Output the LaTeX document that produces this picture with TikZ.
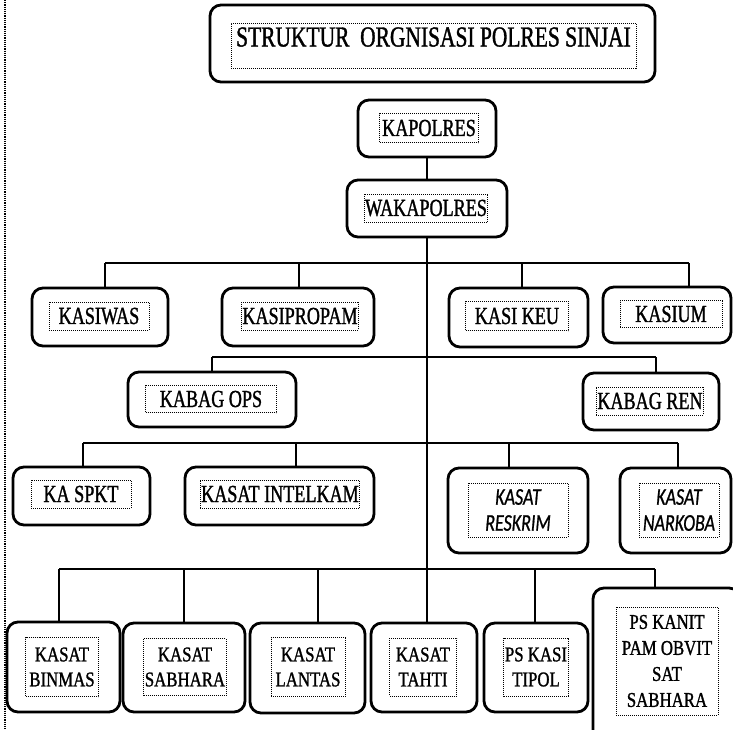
\documentclass[tikz,border=0pt]{standalone}
\usepackage{fontspec}
\newfontfamily\orgserif[FakeStretch=0.74,FakeBold=1.2]{Liberation Serif}
\newfontfamily\orglow[FakeStretch=0.8,FakeBold=1.2]{Liberation Serif}
\newfontfamily\orgsans[FakeStretch=0.75,FakeBold=0.8]{Carlito}
\begin{document}
\begin{tikzpicture}[x=1pt,y=-1pt,conn/.style={line width=1.3pt}]
\tikzstyle{unitbox}=[draw, line width=2.8pt, rounded corners=11pt]
\tikzstyle{txtframe}=[draw, densely dotted, line width=1pt, inner sep=1pt, align=center, font=\orgserif\fontsize{24.5}{28}\selectfont]
\tikzstyle{lowframe}=[txtframe, font=\orglow\fontsize{21}{25}\selectfont]
\tikzstyle{itframe}=[txtframe, font=\orgsans\itshape\fontsize{24}{26}\selectfont]
\useasboundingbox (0,0) rectangle (733,729);
\clip (0,0) rectangle (733,729);
\draw[densely dotted, line width=1.2pt] (5,0) -- (5,729);
% outer boxes
\node[unitbox, minimum width=445pt, minimum height=77pt] (title) at (432.5,43.5) {};
\node[unitbox, minimum width=138pt, minimum height=57pt] (kap) at (427,128.5) {};
\node[unitbox, minimum width=160pt, minimum height=57pt] (wak) at (427,208.5) {};
\node[unitbox, minimum width=136pt, minimum height=58pt] (kasiwas) at (100,317) {};
\node[unitbox, minimum width=152pt, minimum height=58pt] (kasiprop) at (298,317) {};
\node[unitbox, minimum width=139pt, minimum height=59pt] (kasikeu) at (518.5,317.5) {};
\node[unitbox, minimum width=128pt, minimum height=56pt] (kasium) at (667,315) {};
\node[unitbox, minimum width=168pt, minimum height=55pt] (kabops) at (212,399.5) {};
\node[unitbox, minimum width=136pt, minimum height=57pt] (kabren) at (651,401.5) {};
\node[unitbox, minimum width=137pt, minimum height=58pt] (kaspkt) at (81.5,496) {};
\node[unitbox, minimum width=189pt, minimum height=58pt] (intelkam) at (279.5,496) {};
\node[unitbox, minimum width=140pt, minimum height=85pt] (reskrim) at (518,510.5) {};
\node[unitbox, minimum width=111pt, minimum height=85pt] (narkoba) at (675.5,510.5) {};
\node[unitbox, minimum width=113pt, minimum height=90pt] (binmas) at (63.5,667) {};
\node[unitbox, minimum width=122pt, minimum height=89pt] (sabhara) at (184,667.5) {};
\node[unitbox, minimum width=115pt, minimum height=90pt] (lantas) at (307.5,668) {};
\node[unitbox, minimum width=106pt, minimum height=89pt] (tahti) at (424,667.5) {};
\node[unitbox, minimum width=104pt, minimum height=89pt] (tipol) at (536,667.5) {};
\node[unitbox, minimum width=147pt, minimum height=157pt] (pskanit) at (666.5,666.5) {};
% dotted text frames
\node[txtframe, minimum width=405pt, text height=19pt, text depth=17pt, inner ysep=4.5pt, font=\orgserif\fontsize{29}{32}\selectfont] (titleT) at (433.5,45.5) {STRUKTUR\ \ ORGNISASI POLRES SINJAI};
\node[txtframe, minimum width=99pt, minimum height=29pt] (kapT) at (429,128) {KAPOLRES};
\node[txtframe, minimum width=123pt, minimum height=28pt] (wakT) at (426,208) {WAKAPOLRES};
\node[txtframe, minimum width=100pt, minimum height=28pt] (kasiwasT) at (99,316) {KASIWAS};
\node[txtframe, minimum width=115pt, minimum height=28pt] (kasipropT) at (300,316) {KASIPROPAM};
\node[txtframe, minimum width=103pt, minimum height=29pt] (kasikeuT) at (517,316) {KASI KEU};
\node[txtframe, minimum width=102pt, minimum height=27pt] (kasiumT) at (671,314) {KASIUM};
\node[txtframe, minimum width=131pt, minimum height=27pt] (kabopsT) at (211,399) {KABAG OPS};
\node[txtframe, minimum width=101pt, minimum height=28pt] (kabrenT) at (650,401) {KABAG REN};
\node[txtframe, minimum width=100pt, minimum height=28pt] (kaspktT) at (81,494) {KA SPKT};
\node[txtframe, minimum width=155pt, minimum height=28pt] (intelkamT) at (280,494) {KASAT INTELKAM};
\node[itframe, minimum width=100pt, minimum height=54pt] (reskrimT) at (518,510) {KASAT\\RESKRIM};
\node[itframe, minimum width=80pt, minimum height=54pt] (narkobaT) at (679,510) {KASAT\\NARKOBA};
\node[lowframe, minimum width=73pt, minimum height=59pt] (binmasT) at (62,667) {KASAT\\BINMAS};
\node[lowframe, minimum width=82pt, minimum height=57pt] (sabharaT) at (185,667) {KASAT\\SABHARA};
\node[lowframe, minimum width=74pt, minimum height=59pt] (lantasT) at (308,667) {KASAT\\LANTAS};
\node[lowframe, minimum width=67pt, minimum height=58pt] (tahtiT) at (423,667) {KASAT\\TAHTI};
\node[lowframe, minimum width=64pt, minimum height=58pt] (tipolT) at (536,667) {PS KASI\\TIPOL};
\node[lowframe, minimum width=102pt, minimum height=108pt, font=\orglow\fontsize{21}{26}\selectfont] (pskanitT) at (667,661) {PS KANIT\\PAM OBVIT\\SAT\\SABHARA};
% connectors
\coordinate (b1) at (0,263);
\coordinate (b2) at (0,357);
\coordinate (b3) at (0,443);
\coordinate (b4) at (0,569);
\draw[conn] (kap.south) -- (wak.north);
\draw[conn] (wak.south) -- (wak.south |- tahti.north);
\draw[conn] ([xshift=5pt]kasiwas.north |- b1) -- ([xshift=22pt]kasium.north |- b1);
\foreach \n/\s in {kasiwas/5,kasiprop/1,kasikeu/3.5,kasium/22}
  \draw[conn] ([xshift=\s pt]\n.north) -- ([xshift=\s pt]\n.north |- b1);
\draw[conn] (kabops.north |- b2) -- ([xshift=5pt]kabren.north |- b2);
\foreach \n/\s in {kabops/0,kabren/5}
  \draw[conn] ([xshift=\s pt]\n.north) -- ([xshift=\s pt]\n.north |- b2);
\draw[conn] ([xshift=1.5pt]kaspkt.north |- b3) -- ([xshift=2.5pt]narkoba.north |- b3);
\foreach \n/\s in {kaspkt/1.5,intelkam/16.5,reskrim/-9,narkoba/2.5}
  \draw[conn] ([xshift=\s pt]\n.north) -- ([xshift=\s pt]\n.north |- b3);
\draw[conn] ([xshift=-4.5pt]binmas.north |- b4) -- ([xshift=-11.5pt]pskanit.north |- b4);
\foreach \n/\s in {binmas/-4.5,sabhara/0,lantas/10.5,tipol/-1,pskanit/-11.5}
  \draw[conn] ([xshift=\s pt]\n.north) -- ([xshift=\s pt]\n.north |- b4);
\end{tikzpicture}
\end{document}
